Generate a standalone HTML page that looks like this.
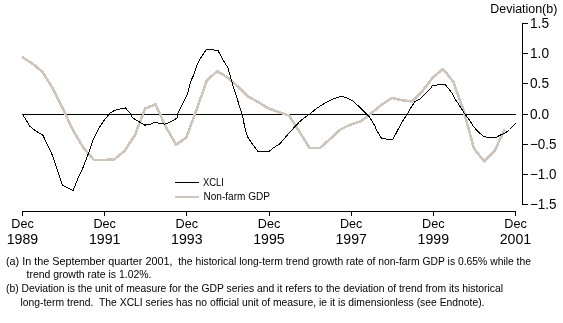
<!DOCTYPE html><html><head><meta charset="utf-8"><style>html,body{margin:0;padding:0;background:#fff;width:563px;height:323px;overflow:hidden}svg{display:block}text{font-family:"Liberation Sans",sans-serif;fill:#000}</style></head><body><svg width="563" height="323" viewBox="0 0 563 323"><g stroke="#000" stroke-width="1" fill="none" shape-rendering="crispEdges"><path d="M22,211.5H516M522.5,23V205"/><path d="M22.5,211V216"/><path d="M104.5,211V216"/><path d="M186.5,211V216"/><path d="M269.5,211V216"/><path d="M351.5,211V216"/><path d="M433.5,211V216"/><path d="M515.5,211V216"/><path d="M522,23.5H528"/><path d="M522,53.5H528"/><path d="M522,83.5H528"/><path d="M522,114.5H528"/><path d="M522,144.5H528"/><path d="M522,174.5H528"/><path d="M522,204.5H528"/><path d="M22,114.5H516"/></g><polyline points="22.00,57.00 32.27,63.50 42.54,72.00 52.81,88.50 63.08,109.00 73.35,131.00 83.62,148.00 93.90,160.00 104.17,160.00 114.44,159.30 124.71,150.70 134.98,135.00 145.25,108.50 155.52,104.30 165.79,126.80 176.06,144.80 186.33,137.50 196.60,109.50 206.88,80.50 217.15,71.20 227.42,77.30 237.69,86.50 247.96,96.50 258.23,102.00 268.50,108.50 278.77,112.00 289.04,115.50 299.31,131.50 309.58,148.00 319.85,148.00 330.12,139.00 340.40,129.50 350.67,124.50 360.94,121.30 371.21,113.30 381.48,104.80 391.75,98.00 402.02,100.20 412.29,101.50 422.56,90.80 432.83,77.50 443.10,68.90 453.38,82.00 463.65,110.50 473.92,148.50 484.19,161.30 494.46,151.00 504.73,129.50" fill="none" stroke="#cec6bd" stroke-width="2.6" stroke-linejoin="round" shape-rendering="crispEdges"/><polyline points="22.20,113.70 29.90,126.30 33.60,129.50 42.90,135.30 47.40,144.60 52.65,155.80 62.30,185.20 73.10,190.40 79.40,175.00 82.10,169.80 88.50,153.30 93.40,139.00 98.00,129.70 104.60,119.50 110.20,113.00 114.30,110.50 118.00,109.60 122.40,108.40 125.50,108.00 131.00,114.20 132.30,117.30 134.80,119.10 139.70,122.20 144.70,125.10 150.00,124.50 151.90,123.50 155.00,122.50 158.70,123.20 164.90,124.10 168.60,122.90 173.50,120.40 177.00,117.90 177.90,113.60 179.70,109.90 183.40,102.40 187.20,95.00 191.20,80.00 193.70,75.00 196.80,65.40 201.10,57.30 206.00,49.90 207.00,49.30 212.90,49.30 214.10,50.20 217.80,50.20 223.10,60.00 224.60,62.30 228.00,68.00 231.80,81.70 237.50,100.00 242.40,114.90 244.30,125.00 246.20,132.40 248.00,137.40 251.10,142.30 258.00,151.60 262.30,151.60 262.90,151.00 269.70,151.00 273.40,147.90 280.00,143.60 288.60,133.50 299.70,121.50 305.00,117.50 308.40,114.80 310.00,114.10 314.90,109.60 321.10,105.50 327.30,101.80 334.70,98.40 340.90,96.20 346.20,97.70 352.40,100.50 359.80,107.30 365.40,112.90 369.70,117.20 375.00,126.10 376.50,130.00 381.10,137.90 386.10,139.10 392.90,139.50 396.60,132.30 402.20,121.80 407.20,114.30 410.30,108.50 415.00,101.50 419.20,99.60 423.60,95.30 431.60,87.20 432.20,85.40 436.60,85.40 437.80,84.50 444.90,84.10 447.40,87.20 451.70,92.80 455.40,99.60 458.70,104.30 464.90,114.20 470.40,121.50 473.50,126.50 476.90,130.50 479.70,133.00 483.70,136.80 490.00,137.40 496.50,137.40 499.30,135.50 505.80,132.70 509.50,129.50 515.50,123.50" fill="none" stroke="#000" stroke-width="1" stroke-linejoin="round" shape-rendering="crispEdges"/><path d="M175,182.5H199" stroke="#000" stroke-width="1" shape-rendering="crispEdges"/><path d="M175,197H199" stroke="#cec6bd" stroke-width="2" shape-rendering="crispEdges"/><g style="filter:grayscale(1)"><text x="203" y="186.3" font-size="11" textLength="21" lengthAdjust="spacingAndGlyphs">XCLI</text><text x="203.5" y="200" font-size="11" textLength="66.5" lengthAdjust="spacingAndGlyphs">Non-farm GDP</text><text x="490.3" y="13" font-size="12" textLength="67" lengthAdjust="spacingAndGlyphs">Deviation(b)</text><text x="530" y="27.6" font-size="14" textLength="19" lengthAdjust="spacingAndGlyphs">1.5</text><text x="530" y="57.6" font-size="14" textLength="19" lengthAdjust="spacingAndGlyphs">1.0</text><text x="530" y="87.6" font-size="14" textLength="19" lengthAdjust="spacingAndGlyphs">0.5</text><text x="530" y="118.6" font-size="14" textLength="19" lengthAdjust="spacingAndGlyphs">0.0</text><text x="530" y="148.6" font-size="14" textLength="26.5" lengthAdjust="spacingAndGlyphs">−0.5</text><text x="530" y="178.6" font-size="14" textLength="26.5" lengthAdjust="spacingAndGlyphs">−1.0</text><text x="530" y="208.6" font-size="14" textLength="26.5" lengthAdjust="spacingAndGlyphs">−1.5</text><text x="22.5" y="228" font-size="13" text-anchor="middle" textLength="22.5" lengthAdjust="spacingAndGlyphs">Dec</text><text x="22.5" y="244" font-size="14" text-anchor="middle" textLength="31.5" lengthAdjust="spacingAndGlyphs">1989</text><text x="104.67" y="228" font-size="13" text-anchor="middle" textLength="22.5" lengthAdjust="spacingAndGlyphs">Dec</text><text x="104.67" y="244" font-size="14" text-anchor="middle" textLength="31.5" lengthAdjust="spacingAndGlyphs">1991</text><text x="186.83" y="228" font-size="13" text-anchor="middle" textLength="22.5" lengthAdjust="spacingAndGlyphs">Dec</text><text x="186.83" y="244" font-size="14" text-anchor="middle" textLength="31.5" lengthAdjust="spacingAndGlyphs">1993</text><text x="269.0" y="228" font-size="13" text-anchor="middle" textLength="22.5" lengthAdjust="spacingAndGlyphs">Dec</text><text x="269.0" y="244" font-size="14" text-anchor="middle" textLength="31.5" lengthAdjust="spacingAndGlyphs">1995</text><text x="351.17" y="228" font-size="13" text-anchor="middle" textLength="22.5" lengthAdjust="spacingAndGlyphs">Dec</text><text x="351.17" y="244" font-size="14" text-anchor="middle" textLength="31.5" lengthAdjust="spacingAndGlyphs">1997</text><text x="433.33" y="228" font-size="13" text-anchor="middle" textLength="22.5" lengthAdjust="spacingAndGlyphs">Dec</text><text x="433.33" y="244" font-size="14" text-anchor="middle" textLength="31.5" lengthAdjust="spacingAndGlyphs">1999</text><text x="515.5" y="228" font-size="13" text-anchor="middle" textLength="22.5" lengthAdjust="spacingAndGlyphs">Dec</text><text x="515.5" y="244" font-size="14" text-anchor="middle" textLength="31.5" lengthAdjust="spacingAndGlyphs">2001</text><text x="6" y="265" font-size="11" textLength="166.5" lengthAdjust="spacingAndGlyphs" xml:space="preserve">(a) In the September quarter 2001,</text><text x="178.2" y="265" font-size="11" textLength="352.8" lengthAdjust="spacingAndGlyphs" xml:space="preserve">the historical long-term trend growth rate of non-farm GDP is 0.65% while the</text><text x="26.5" y="278" font-size="11" textLength="125" lengthAdjust="spacingAndGlyphs" xml:space="preserve">trend growth rate is 1.02%.</text><text x="6" y="291.5" font-size="11" textLength="497" lengthAdjust="spacingAndGlyphs" xml:space="preserve">(b) Deviation is the unit of measure for the GDP series and it refers to the deviation of trend from its historical</text><text x="20.5" y="305.5" font-size="11" textLength="464" lengthAdjust="spacingAndGlyphs" xml:space="preserve">long-term trend.  The XCLI series has no official unit of measure, ie it is dimensionless (see Endnote).</text></g></svg></body></html>
